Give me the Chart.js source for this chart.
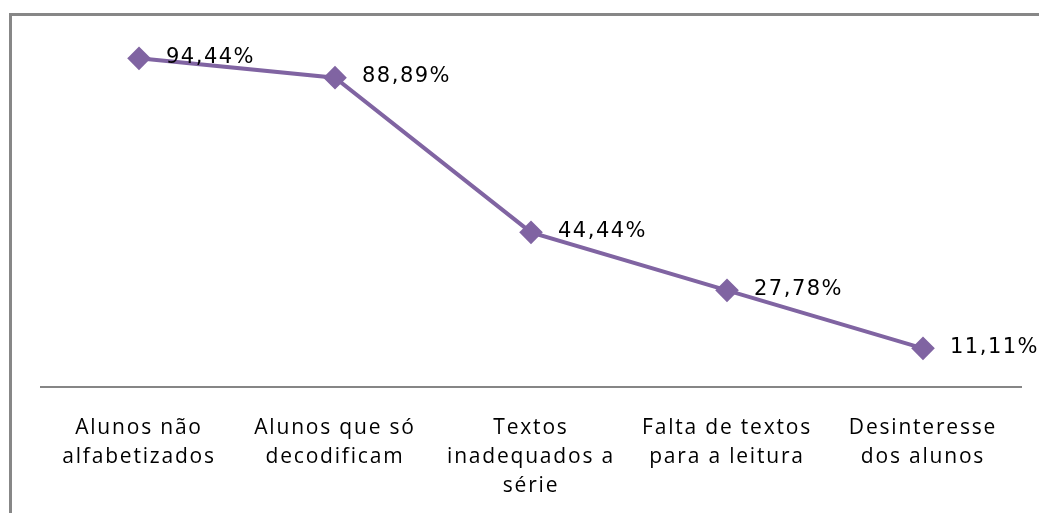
<!DOCTYPE html>
<html>
<head>
<meta charset="utf-8">
<script src="https://cdn.jsdelivr.net/npm/chart.js@4.4.0/dist/chart.umd.min.js"></script>
<style>
  html, body { margin: 0; padding: 0; background: #fff; }
  #wrap { width: 1039px; height: 513px; position: relative; }
</style>
</head>
<body>
<div id="wrap"><canvas id="grafico"></canvas></div>
<script>
const categorias = [
  ["Alunos não", "alfabetizados"],
  ["Alunos que só", "decodificam"],
  ["Textos", "inadequados a", "série"],
  ["Falta de textos", "para a leitura"],
  ["Desinteresse", "dos alunos"],
];
const percentuais = [94.44, 88.89, 44.44, 27.78, 11.11];
const rotulos = ["94,44%", "88,89%", "44,44%", "27,78%", "11,11%"];

const cor = "#8064A2";

new Chart(document.getElementById("grafico"), {
  type: "line",
  data: {
    labels: categorias,
    datasets: [
      {
        data: percentuais,
        borderColor: cor,
        backgroundColor: cor,
        borderWidth: 4,
        pointStyle: "rectRot",
        pointRadius: 9,
        pointHoverRadius: 9,
        tension: 0,
      },
    ],
  },
  options: {
    responsive: true,
    maintainAspectRatio: false,
    animation: false,
    layout: { padding: { top: 39, left: 41, right: 18, bottom: 0 } },
    plugins: {
      legend: { display: false },
      tooltip: { enabled: false },
    },
    scales: {
      x: {
        offset: true,
        grid: { display: false, drawTicks: false },
        border: { display: true, color: "#868686", width: 2 },
        ticks: {
          color: "#000",
          font: { family: "'Open Sans'", size: 21, lineHeight: 1.4 },
          padding: 26,
          maxRotation: 0,
          autoSkip: false,
        },
        afterFit(scale) {
          scale.height = 126; // base do eixo em y=387
        },
      },
      y: {
        display: false,
        min: 0,
        max: 100,
      },
    },
  },
  plugins: [
    {
      id: "moldura",
      beforeDraw(chart) {
        const ctx = chart.ctx;
        ctx.save();
        ctx.fillStyle = "#878787";
        ctx.fillRect(9, 13, chart.width, 3); // borda de cima
        ctx.fillRect(9, 13, 3, chart.height); // borda da esquerda
        ctx.restore();
        ctx.letterSpacing = "1.8px";
      },
      beforeLayout(chart) {
        chart.ctx.letterSpacing = "1.8px";
      },
    },
    {
      id: "rotulosDados",
      afterDatasetsDraw(chart) {
        const ctx = chart.ctx;
        const meta = chart.getDatasetMeta(0);
        ctx.save();
        ctx.font = "21px 'DejaVu Sans'";
        ctx.letterSpacing = "1.5px";
        ctx.fillStyle = "#000";
        ctx.textAlign = "left";
        ctx.textBaseline = "middle";
        meta.data.forEach((pt, i) => {
          ctx.fillText(rotulos[i], pt.x + 27, pt.y - 1);
        });
        ctx.restore();
      },
    },
  ],
});
</script>
</body>
</html>
